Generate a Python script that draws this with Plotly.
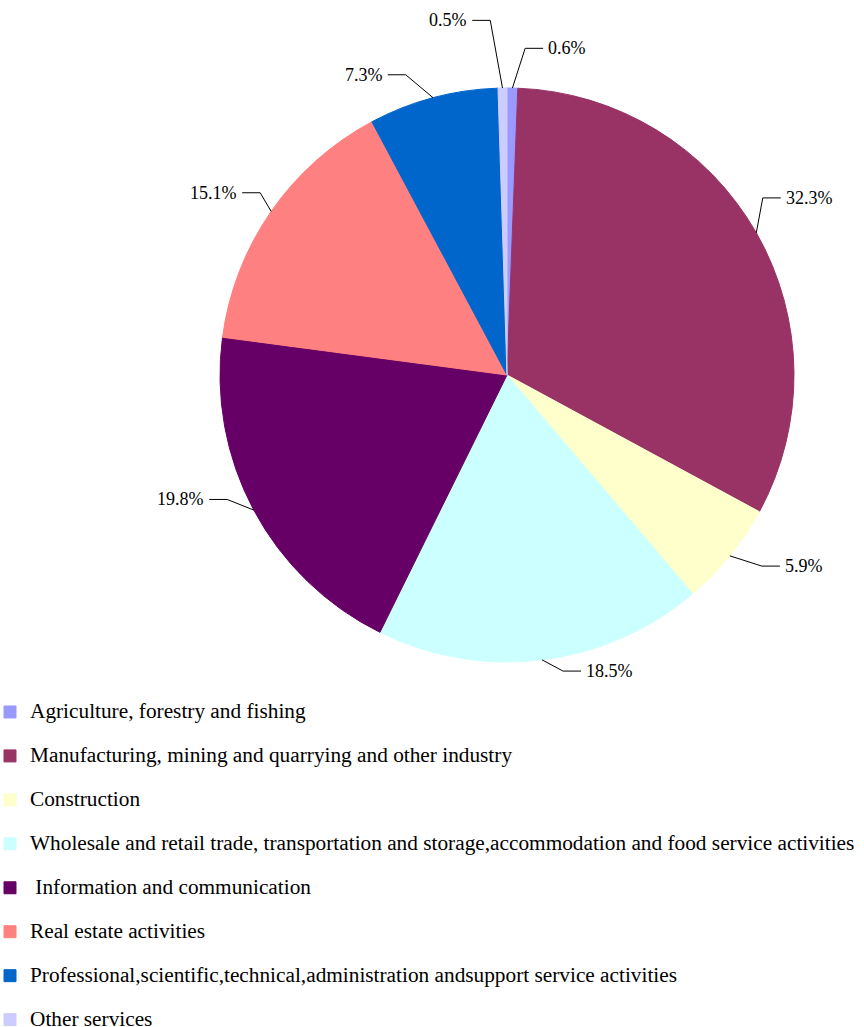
import math
import plotly.graph_objects as go

# ---- data ----
categories = [
    "Agriculture, forestry and fishing",
    "Manufacturing, mining and quarrying and other industry",
    "Construction",
    "Wholesale and retail trade, transportation and storage,accommodation and food service activities",
    "\u00a0Information and communication",
    "Real estate activities",
    "Professional,scientific,technical,administration andsupport service activities",
    "Other services",
]
shares = [0.6, 32.3, 5.9, 18.5, 19.8, 15.1, 7.3, 0.5]
colors = ["#9999FF", "#993366", "#FFFFCC", "#CCFFFF", "#660066", "#FF8080", "#0066CC", "#CCCCFF"]

# ---- label placement (style, not data) ----
elbow_k = [1.14, 1.084, 1.11, 1.05, 1.067, 1.069, 1.104, 1.237]
elbow_dtheta = [2.1, -5.0, -2.2, -3.7, 4.1, 1.7, -3.7, -1.8]

W, H = 864, 1027
cx, cy, R = 507, 375, 287

dom_x = [(cx - R) / W, (cx + R) / W]
dom_y = [1 - (cy + R) / H, 1 - (cy - R) / H]

legend_labels = [
    "<span style='font-size:21.3px;baseline-shift:5.6px'>%s</span>" % c for c in categories
]

fig = go.Figure(
    go.Pie(
        labels=legend_labels,
        values=shares,
        sort=False,
        direction="clockwise",
        rotation=0,
        marker=dict(colors=colors, line=dict(width=1, color=colors)),
        textinfo="none",
        hoverinfo="label+percent",
        domain=dict(x=dom_x, y=dom_y),
    )
)

def px2paper(x, y):
    return x / W, 1 - y / H

total = sum(shares)
cum = 0.0
shapes = []
annotations = []
for i, v in enumerate(shares):
    mid = (cum + v / 2) / total * 360.0
    cum += v
    t0 = math.radians(mid)
    sx, sy = cx + R * math.sin(t0), cy - R * math.cos(t0)
    te = math.radians(mid + elbow_dtheta[i])
    ex, ey = cx + elbow_k[i] * R * math.sin(te), cy - elbow_k[i] * R * math.cos(te)
    side = 1 if math.sin(te) > 0 else -1
    hx = ex + side * 18
    p = [px2paper(sx, sy), px2paper(ex, ey), px2paper(hx, ey)]
    path = "M %f,%f L %f,%f L %f,%f" % (p[0][0], p[0][1], p[1][0], p[1][1], p[2][0], p[2][1])
    shapes.append(dict(type="path", xref="paper", yref="paper", path=path,
                       line=dict(color="black", width=1)))
    tx, ty = px2paper(hx + side * 3, ey)
    annotations.append(dict(
        x=tx, y=ty, xref="paper", yref="paper", showarrow=False,
        text="%.1f%%" % v,
        xanchor="left" if side > 0 else "right", yanchor="middle",
        font=dict(family="Liberation Serif", size=18, color="black"),
    ))

fig.update_layout(
    width=W, height=H,
    margin=dict(l=0, r=0, t=0, b=0, autoexpand=False),
    paper_bgcolor="white",
    plot_bgcolor="white",
    shapes=shapes,
    annotations=annotations,
    showlegend=True,
    legend=dict(
        x=-10 / W, xanchor="left",
        y=1 - 685 / H, yanchor="top",
        orientation="v",
        font=dict(family="Liberation Serif", size=31.5, color="black"),
        bgcolor="rgba(0,0,0,0)",
        traceorder="normal",
    ),
    font=dict(family="Liberation Serif", color="black"),
)

fig.write_html("out.html")
